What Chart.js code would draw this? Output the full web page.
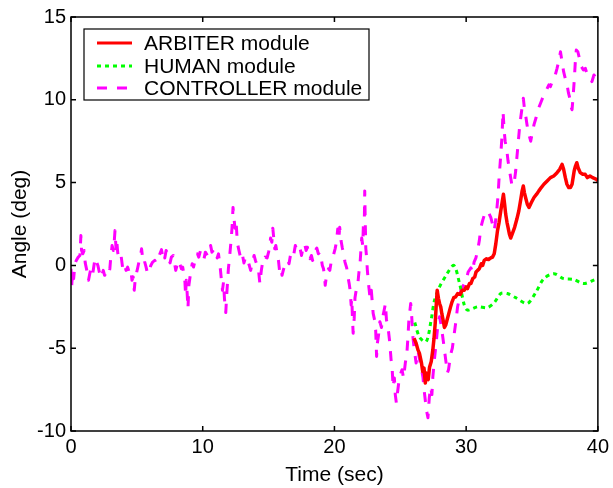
<!DOCTYPE html>
<html>
<head>
<meta charset="utf-8">
<script src="https://cdn.jsdelivr.net/npm/chart.js@4/dist/chart.umd.min.js"></script>
<style>
  html, body { margin: 0; padding: 0; background: #fff; }
  #wrap { width: 613px; height: 488px; }
</style>
</head>
<body>
<div id="wrap"><canvas id="ch-angle" width="613" height="488"></canvas></div>
<script>
// ── Data: [time (sec), angle (deg)] ────────────────────────────────────────
const ctrlPts = [
    [0, -0.2], [0.05, -1.3], [0.12, -0.3], [0.2, -0.8], [0.3, 0.1], [0.4, 0.3], [0.55, 0.5],
    [0.68, 0.6], [0.75, 1.8], [0.8, 0.9], [0.9, 0.7], [1.0, 0.9], [1.08, 0.15], [1.2, -0.3],
    [1.33, -0.9], [1.45, -0.4], [1.53, -0.15], [1.65, -0.5], [1.83, 0.45], [1.95, 0.2], [2.04, 0],
    [2.15, -0.4], [2.29, -0.75], [2.45, -0.3], [2.55, -0.6], [2.67, -0.45], [2.84, -0.6],
    [2.95, -0.2], [3.0, 0.3], [3.12, 1.2], [3.22, 0.9], [3.28, 1.4], [3.34, 2.1], [3.42, 1.0],
    [3.47, 1.5], [3.55, 0.75], [3.67, 0.4], [3.8, 0.6], [3.92, -0.15], [4.05, 0.1], [4.18, -0.3],
    [4.3, -0.1], [4.43, -0.45], [4.55, -0.3], [4.63, -0.9], [4.72, -0.7], [4.8, -1.5], [4.87, -0.9],
    [4.93, -0.6], [5.05, -0.2], [5.18, 0.3], [5.3, 0.7], [5.36, 1.0], [5.43, 0.5], [5.5, 0.6],
    [5.6, 0.2], [5.7, -0.1], [5.81, -0.5], [5.95, -0.3], [6.06, 0], [6.2, 0.2], [6.36, 0.3],
    [6.45, 0.15], [6.57, 0.45], [6.7, 0.6], [6.87, 0.95], [6.95, 0.6], [7.03, 0.8], [7.12, 0.45],
    [7.22, 0.9], [7.32, 0.75], [7.42, 0.4], [7.52, 0.15], [7.62, 0.5], [7.77, 0.6], [7.85, 0.2],
    [7.95, -0.3], [8.05, 0], [8.2, 0.3], [8.3, 0.0], [8.38, -0.2], [8.48, -0.1], [8.58, -0.6],
    [8.65, -1.0], [8.7, -1.8], [8.75, -0.9], [8.8, -1.4], [8.88, -2.6], [8.95, -1.2], [9.08, -0.45],
    [9.2, 0.1], [9.3, -0.1], [9.46, 0.4], [9.6, 0.7], [9.7, 0.5], [9.83, 0.9], [9.95, 0.6],
    [10.1, 0.4], [10.2, 0.8], [10.36, 0.6], [10.48, 0.9], [10.6, 1.2], [10.7, 0.8], [10.87, 1.0],
    [10.95, 0.7], [11.1, 0.45], [11.2, 0.7], [11.35, -0.3], [11.42, -0.9], [11.5, -1.5],
    [11.58, -1.0], [11.65, -2.0], [11.75, -2.85], [11.82, -1.8], [11.95, -0.2], [12.05, 0.6],
    [12.13, 1.3], [12.2, 2.0], [12.25, 2.6], [12.3, 3.5], [12.38, 2.8], [12.45, 2.25], [12.53, 2.7],
    [12.63, 1.35], [12.75, 0.9], [12.88, 0.45], [13.0, 0.7], [13.13, 0.15], [13.25, 0.5],
    [13.38, 0.45], [13.5, 0.1], [13.64, -0.3], [13.75, 0.1], [13.9, 0.6], [14.0, 0.3], [14.14, 0],
    [14.25, -0.4], [14.34, -1.1], [14.45, -0.3], [14.55, 0.2], [14.64, 0.15], [14.75, 0.5],
    [14.89, 0.45], [15.0, 0.8], [15.1, 1.2], [15.15, 1.65], [15.25, 1.4], [15.32, 2.25], [15.4, 1.6],
    [15.47, 1.0], [15.55, 1.2], [15.65, 0.7], [15.75, 0.3], [15.83, -0.3], [15.93, -0.1],
    [16.02, -0.6], [16.15, -0.2], [16.32, 0.15], [16.45, 0.3], [16.55, 0.1], [16.66, 0.6],
    [16.8, 0.8], [16.9, 0.6], [17.03, 1.2], [17.15, 0.9], [17.25, 1.1], [17.4, 1.0], [17.5, 0.6],
    [17.6, 1.0], [17.74, 1.3], [17.85, 0.9], [17.95, 1.1], [18.04, 0.7], [18.15, 0.4], [18.25, 0.6],
    [18.34, 0.3], [18.45, 0.5], [18.55, 0.9], [18.66, 1.05], [18.78, 0.7], [18.9, 0.8], [19.0, 0.4],
    [19.08, 0.0], [19.17, -0.2], [19.24, -0.6], [19.3, -1.2], [19.4, -0.6], [19.55, -0.2],
    [19.65, -0.3], [19.8, 0.45], [19.92, 0.6], [20.05, 1.0], [20.15, 1.4], [20.25, 2.2],
    [20.33, 1.6], [20.4, 2.3], [20.5, 1.5], [20.6, 1.05], [20.7, 0.7], [20.8, 0.2], [20.93, -0.15],
    [21.05, -0.8], [21.12, -1.1], [21.19, -1.5], [21.27, -2.4], [21.32, -2.0], [21.36, -3.0],
    [21.42, -4.1], [21.5, -3.2], [21.56, -1.95], [21.65, -1.5], [21.76, -1.25], [21.85, -0.5],
    [21.95, 0.2], [22.07, 1.65], [22.15, 1.2], [22.2, 2.5], [22.27, 2.7], [22.3, 4.5], [22.34, 2.6],
    [22.38, 1.05], [22.45, 0.4], [22.5, -0.3], [22.6, -1.2], [22.7, -1.95], [22.8, -1.5],
    [22.94, -2.9], [23.05, -3.3], [23.13, -3.9], [23.2, -5.5], [23.26, -4.7], [23.35, -4.2],
    [23.45, -3.4], [23.57, -3.75], [23.7, -3.0], [23.8, -2.6], [23.87, -2.3], [23.95, -3.3],
    [24.05, -3.6], [24.2, -4.65], [24.3, -5.7], [24.37, -6.0], [24.45, -7.35], [24.55, -6.8],
    [24.62, -7.8], [24.7, -8.3], [24.8, -7.6], [24.88, -7.1], [25.0, -6.6], [25.13, -6.3],
    [25.25, -6.8], [25.38, -5.9], [25.5, -5.3], [25.58, -4.35], [25.65, -3.3], [25.72, -2.8],
    [25.79, -2.3], [25.86, -3.0], [25.96, -4.35], [26.05, -5.0], [26.2, -5.9], [26.35, -5.2],
    [26.47, -5.7], [26.6, -6.2], [26.72, -6.75], [26.82, -7.6], [26.92, -8.3], [27.0, -8.8],
    [27.1, -9.2], [27.2, -8.0], [27.3, -7.35], [27.4, -7.8], [27.47, -6.75], [27.6, -5.6],
    [27.72, -4.7], [27.85, -3.6], [27.98, -3.1], [28.1, -3.6], [28.23, -4.35], [28.35, -5.1],
    [28.48, -5.9], [28.57, -6.5], [28.66, -6.3], [28.75, -5.8], [28.85, -5.3], [28.95, -5.0],
    [29.06, -4.35], [29.2, -3.5], [29.35, -2.5], [29.48, -2.0], [29.6, -1.5], [29.8, -1.2],
    [30.0, -0.9], [30.15, -0.4], [30.36, -0.15], [30.5, -0.4], [30.6, 0.2], [30.74, 0.45],
    [30.87, 0.9], [31.0, 1.5], [31.12, 2.3], [31.25, 2.7], [31.4, 3.1], [31.57, 3.3], [31.7, 3.2],
    [31.87, 2.9], [32.0, 2.5], [32.13, 2.1], [32.22, 2.6], [32.32, 3.3], [32.42, 4.2], [32.5, 5.3],
    [32.63, 6.7], [32.72, 7.8], [32.8, 9.3], [32.88, 8.2], [32.96, 7.5], [33.08, 7.0], [33.18, 6.3],
    [33.28, 5.8], [33.38, 5.3], [33.48, 4.8], [33.58, 4.9], [33.68, 5.2], [33.76, 5.7], [33.86, 6.6],
    [33.96, 7.5], [34.05, 8.3], [34.14, 8.9], [34.24, 9.5], [34.34, 10.1], [34.42, 9.5], [34.51, 9.1],
    [34.6, 8.6], [34.7, 8.1], [34.8, 7.8], [34.9, 7.5], [35.02, 8.0], [35.15, 8.5], [35.3, 8.9],
    [35.5, 9.5], [35.7, 9.9], [35.9, 10.3], [36.1, 10.6], [36.28, 10.9], [36.4, 10.8], [36.53, 11.1],
    [36.7, 11.3], [36.9, 11.9], [37.05, 12.4], [37.16, 12.9], [37.28, 12.3], [37.4, 11.7],
    [37.52, 11.3], [37.66, 10.9], [37.77, 10.4], [37.87, 10.1], [37.95, 9.6], [38.04, 9.4],
    [38.12, 10.2], [38.2, 11.1], [38.28, 12.2], [38.36, 13.0], [38.48, 12.9], [38.6, 12.5],
    [38.75, 12.0], [38.9, 11.8], [39.05, 11.9], [39.2, 11.5], [39.38, 11.3], [39.55, 11.1],
    [39.7, 11.5], [39.87, 11.3], [40, 11.2],
];

const arbPts = [
    [26.04, -4.4], [26.2, -4.7], [26.34, -5.1], [26.45, -5.3], [26.6, -5.85], [26.7, -6.4],
    [26.8, -6.2], [26.9, -7.1], [26.97, -6.5], [27.04, -6.75], [27.12, -6.9], [27.22, -6.15],
    [27.35, -5.8], [27.47, -5.1], [27.56, -4.4], [27.65, -3.5], [27.72, -2.5], [27.8, -1.5],
    [27.9, -2.0], [27.98, -2.3], [28.07, -2.5], [28.15, -2.9], [28.25, -3.3], [28.35, -3.75],
    [28.45, -3.6], [28.55, -3.3], [28.65, -3.0], [28.8, -2.55], [28.93, -2.2], [29.06, -1.95],
    [29.2, -1.9], [29.36, -1.7], [29.55, -1.75], [29.7, -1.5], [29.86, -1.5], [30.0, -1.3],
    [30.1, -1.4], [30.25, -1.1], [30.36, -1.1], [30.5, -0.8], [30.65, -0.7], [30.75, -0.4],
    [30.87, -0.3], [31.0, -0.2], [31.15, 0.1], [31.25, 0.0], [31.37, 0.3], [31.55, 0.4],
    [31.7, 0.35], [31.87, 0.45], [32.0, 0.5], [32.13, 0.7], [32.25, 1.3], [32.38, 2.1], [32.5, 2.6],
    [32.63, 3.3], [32.75, 3.9], [32.83, 4.3], [32.92, 3.7], [33.0, 3.1], [33.1, 2.6], [33.18, 2.3],
    [33.28, 1.9], [33.38, 1.65], [33.5, 1.9], [33.68, 2.3], [33.85, 2.8], [34.0, 3.3], [34.15, 4.0],
    [34.25, 4.5], [34.34, 4.8], [34.42, 4.4], [34.51, 4.1], [34.64, 3.7], [34.77, 3.5],
    [34.95, 3.8], [35.15, 4.1], [35.35, 4.3], [35.52, 4.5], [35.7, 4.7], [35.9, 4.9], [36.15, 5.1],
    [36.4, 5.3], [36.65, 5.4], [36.9, 5.6], [37.1, 5.8], [37.28, 6.1], [37.4, 5.8], [37.53, 5.3],
    [37.65, 4.9], [37.79, 4.7], [37.92, 4.7], [38.04, 4.9], [38.12, 5.3], [38.2, 5.7], [38.3, 6.0],
    [38.4, 6.2], [38.5, 5.9], [38.66, 5.6], [38.85, 5.5], [39.04, 5.5], [39.2, 5.3], [39.4, 5.4],
    [39.6, 5.3], [39.9, 5.2], [40, 5.1],
];

const humPts = [
    [26.1, -3.45], [26.47, -4.35], [26.97, -4.6], [27.34, -3.3], [27.6, -2.1], [27.98, -1.3],
    [28.48, -0.6], [29.06, 0], [29.5, -1.1], [29.86, -2.4], [30.1, -2.7], [30.87, -2.5],
    [31.6, -2.55], [32.13, -2.25], [32.63, -1.7], [33.13, -1.7], [33.76, -1.95], [34.64, -2.3],
    [35.27, -1.65], [35.9, -0.8], [36.66, -0.5], [37.4, -0.8], [38.17, -0.85], [38.92, -1.1],
    [39.8, -0.85], [40, -0.8],
];

const seriesNames = ['ARBITER module', 'HUMAN module', 'CONTROLLER module'];
const xTicks = [0, 10, 20, 30, 40];
const yTicks = [-10, -5, 0, 5, 10, 15];

const FONT = '"Liberation Sans", Arial, Helvetica, sans-serif';

const toXY = arr => arr.map(([t, v]) => ({ x: t, y: v }));

// ── Box, inward ticks and legend (MATLAB look) ─────────────────────────────
const boxPlugin = {
    id: 'matlabBox',
    afterDatasetsDraw(chart) {
        const { ctx, chartArea: a, scales: { x, y } } = chart;
        ctx.save();
        ctx.strokeStyle = '#000';
        ctx.lineWidth = 1.5;
        ctx.strokeRect(a.left, a.top, a.right - a.left, a.bottom - a.top);
        ctx.beginPath();
        xTicks.forEach(v => {
            const px = x.getPixelForValue(v);
            ctx.moveTo(px, a.bottom); ctx.lineTo(px, a.bottom - 5);
            ctx.moveTo(px, a.top);    ctx.lineTo(px, a.top + 5);
        });
        yTicks.forEach(v => {
            const py = y.getPixelForValue(v);
            ctx.moveTo(a.left, py);  ctx.lineTo(a.left + 5, py);
            ctx.moveTo(a.right, py); ctx.lineTo(a.right - 5, py);
        });
        ctx.stroke();

        // legend
        const lx = 84, ly = 29, lw = 285, lh = 71;
        ctx.fillStyle = '#fff';
        ctx.fillRect(lx, ly, lw, lh);
        ctx.lineWidth = 1.2;
        ctx.strokeRect(lx, ly, lw, lh);
        ctx.font = '21px ' + FONT;
        ctx.textBaseline = 'middle';
        ctx.textAlign = 'left';
        [43, 66, 88].forEach((ry, i) => {
            const ds = chart.data.datasets[i];
            ctx.strokeStyle = ds.borderColor;
            ctx.lineWidth = 3;
            ctx.setLineDash(ds.borderDash || []);
            ctx.beginPath();
            ctx.moveTo(97, ry); ctx.lineTo(132, ry);
            ctx.stroke();
            ctx.setLineDash([]);
            ctx.fillStyle = '#000';
            ctx.fillText(ds.label, 144, ry + 1);
        });
        ctx.restore();
    },
};

const ctx = document.getElementById('ch-angle').getContext('2d');
new Chart(ctx, {
    type: 'line',
    data: {
        datasets: [
            {
                label: seriesNames[0], data: toXY(arbPts),
                borderColor: '#ff0000', borderWidth: 3.5, pointRadius: 0, tension: 0,
                borderJoinStyle: 'round',
            },
            {
                label: seriesNames[1], data: toXY(humPts),
                borderColor: '#00ff00', borderWidth: 3, borderDash: [4, 4], pointRadius: 0,
                tension: 0.3,
            },
            {
                label: seriesNames[2], data: toXY(ctrlPts),
                borderColor: '#ff00ff', borderWidth: 3, borderDash: [10, 10], pointRadius: 0,
                tension: 0, borderJoinStyle: 'round',
            },
        ],
    },
    options: {
        responsive: false, animation: false, devicePixelRatio: 1,
        layout: { padding: { top: 15, right: 12, left: 0, bottom: 0 } },
        plugins: { legend: { display: false }, tooltip: { enabled: false } },
        scales: {
            x: {
                type: 'linear', min: 0, max: 40,
                afterFit: s => { s.height = 57; },
                afterBuildTicks: s => { s.ticks = xTicks.map(v => ({ value: v })); },
                grid: { display: false, drawTicks: false },
                border: { display: false },
                ticks: { color: '#000', padding: 4, font: { family: FONT, size: 20 }, maxRotation: 0 },
                title: { display: true, text: 'Time (sec)', color: '#000',
                    font: { family: FONT, size: 21 }, padding: { top: 4, bottom: 0 } },
            },
            y: {
                type: 'linear', min: -10, max: 15,
                afterFit: s => { s.width = 71; },
                afterBuildTicks: s => { s.ticks = yTicks.map(v => ({ value: v })); },
                grid: { display: false, drawTicks: false },
                border: { display: false },
                ticks: { color: '#000', padding: 5, font: { family: FONT, size: 20 } },
                title: { display: true, text: 'Angle (deg)', color: '#000',
                    font: { family: FONT, size: 21 }, padding: { top: 8, bottom: 0 } },
            },
        },
    },
    plugins: [boxPlugin],
});
</script>
</body>
</html>
